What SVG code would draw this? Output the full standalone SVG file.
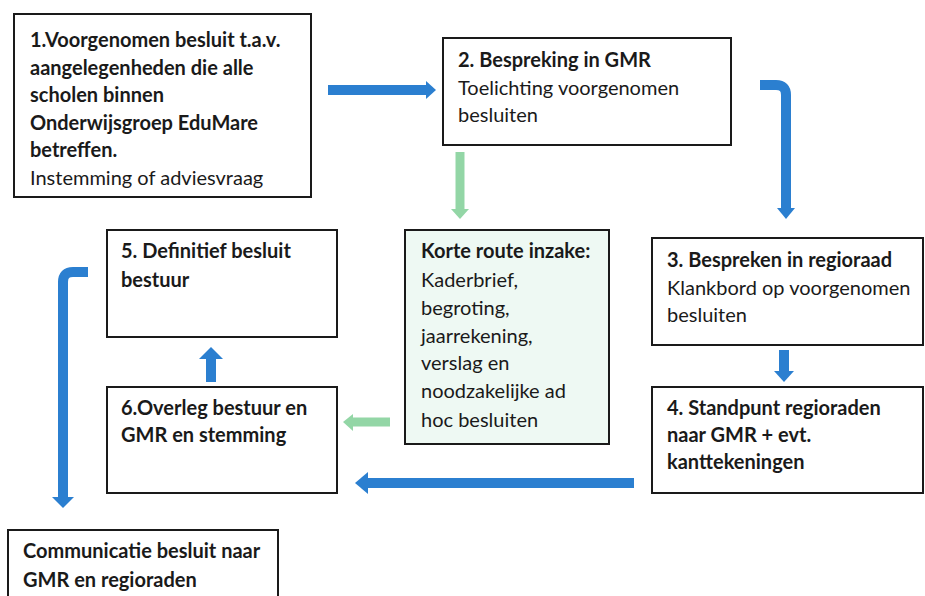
<svg xmlns="http://www.w3.org/2000/svg" width="925" height="596" viewBox="0 0 925 596">
<style>
.box{fill:#fff;stroke:#1a1a1a;stroke-width:2}
.mint{fill:#eef9f3;stroke:#1a1a1a;stroke-width:2}
text{font-family:Lato,"Open Sans",sans-serif;font-size:20px;fill:#1a1a1a}
.b{font-weight:bold}
.blue{fill:none;stroke:#2b7fd0;stroke-width:10}
.bluehead{fill:#2b7fd0}
.green{fill:none;stroke:#93d6a6;stroke-width:9}
.greenhead{fill:#93d6a6}
</style>
<rect width="925" height="596" fill="#fff"/>
<g id="connectors">
  <path class="blue" d="M328 90 H428"/>
  <polygon class="bluehead" points="426,81 436,90 426,99"/>
  <path class="blue" d="M760 85 H776 Q786 85 786 95 V210"/>
  <polygon class="bluehead" points="777,208 795,208 786,219"/>
  <path class="blue" d="M784 350 V373"/>
  <polygon class="bluehead" points="774,371 794,371 784,382"/>
  <path class="blue" d="M634 483 H366"/>
  <polygon class="bluehead" points="368,472 368,494 355,483"/>
  <path class="blue" d="M211 382 V357"/>
  <polygon class="bluehead" points="199,359 223,359 211,347"/>
  <path class="blue" d="M88 272 H73 Q63 272 63 282 V499"/>
  <polygon class="bluehead" points="52,497 74,497 63,508"/>
  <path class="green" d="M460 152 V210"/>
  <polygon class="greenhead" points="451,209 469,209 460,219"/>
  <path class="green" d="M390 422 H352"/>
  <polygon class="greenhead" points="353,414 353,431 343,422"/>
</g>
<g id="node1">
  <rect class="box" x="14" y="14" width="297" height="183"/>
  <text x="30" y="47" class="b">1.Voorgenomen besluit t.a.v.</text>
  <text x="30" y="75" class="b">aangelegenheden die alle</text>
  <text x="30" y="102" class="b">scholen binnen</text>
  <text x="30" y="130" class="b">Onderwijsgroep EduMare</text>
  <text x="30" y="157" class="b">betreffen.</text>
  <text x="30" y="185">Instemming of adviesvraag</text>
</g>
<g id="node2">
  <rect class="box" x="443" y="38" width="288" height="107"/>
  <text x="458" y="67" class="b">2. Bespreking in GMR</text>
  <text x="458" y="95">Toelichting voorgenomen</text>
  <text x="458" y="122">besluiten</text>
</g>
<g id="node-korte-route">
  <rect class="mint" x="405" y="230" width="204" height="214"/>
  <text x="421" y="258" class="b">Korte route inzake:</text>
  <text x="421" y="287">Kaderbrief,</text>
  <text x="421" y="315">begroting,</text>
  <text x="421" y="343">jaarrekening,</text>
  <text x="421" y="370">verslag en</text>
  <text x="421" y="398">noodzakelijke ad</text>
  <text x="421" y="427">hoc besluiten</text>
</g>
<g id="node3">
  <rect class="box" x="652" y="238" width="271" height="107"/>
  <text x="667" y="267" class="b">3. Bespreken in regioraad</text>
  <text x="667" y="295">Klankbord op voorgenomen</text>
  <text x="667" y="322">besluiten</text>
</g>
<g id="node4">
  <rect class="box" x="652" y="387" width="271" height="106"/>
  <text x="667" y="415" class="b">4. Standpunt regioraden</text>
  <text x="667" y="442" class="b">naar GMR + evt.</text>
  <text x="667" y="469" class="b">kanttekeningen</text>
</g>
<g id="node5">
  <rect class="box" x="107" y="230" width="230" height="107"/>
  <text x="121" y="258" class="b">5. Definitief besluit</text>
  <text x="121" y="287" class="b">bestuur</text>
</g>
<g id="node6">
  <rect class="box" x="107" y="387" width="230" height="106"/>
  <text x="121" y="415" class="b">6.Overleg bestuur en</text>
  <text x="121" y="442" class="b">GMR en stemming</text>
</g>
<g id="node-communicatie">
  <rect class="box" x="8" y="530" width="270" height="80"/>
  <text x="23" y="558" class="b">Communicatie besluit naar</text>
  <text x="23" y="587" class="b">GMR en regioraden</text>
</g>
</svg>
